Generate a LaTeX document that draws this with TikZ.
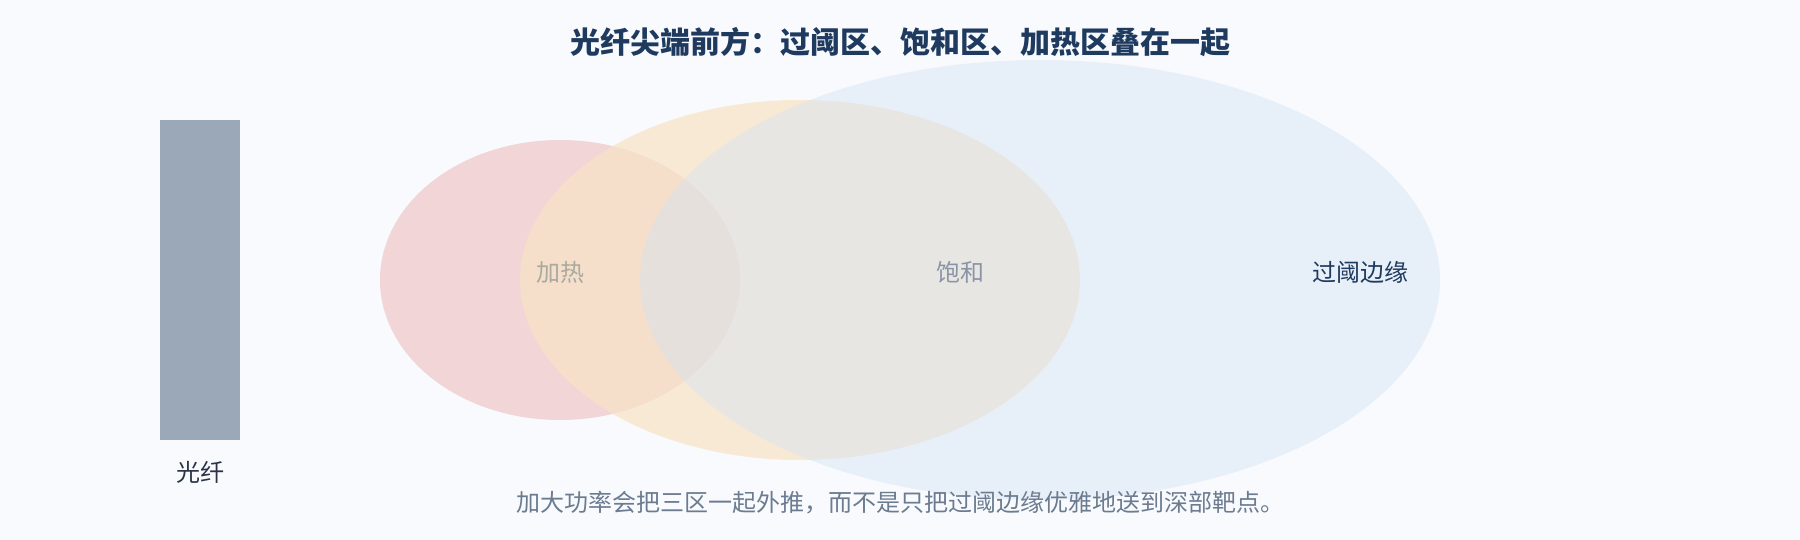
\documentclass[tikz,border=0pt]{standalone}
\usepackage{fontspec}
\setmainfont{Noto Sans CJK SC}
\usetikzlibrary{shapes.geometric}
\definecolor{background}{RGB}{248,250,253}
\definecolor{threshold}{RGB}{212,228,244}
\definecolor{saturation}{RGB}{248,227,197}
\definecolor{heating}{RGB}{236,178,179}
\definecolor{fiber}{RGB}{154,168,184}
\definecolor{navy}{RGB}{31,58,95}
\definecolor{slate}{RGB}{42,52,70}
\definecolor{note}{RGB}{107,123,144}
\definecolor{muted}{RGB}{169,170,160}
\tikzstyle{zone}=[ellipse, inner sep=0pt, draw=none]
\tikzset{zonetext/.style={font=\fontsize{24}{28}\selectfont}}
\tikzstyle{heating}=[fill=heating, fill opacity=.5]

\begin{document}
\begin{tikzpicture}[x=1pt,y=-1pt]
  \fill[background] (0,0) rectangle (1800,540);
  \useasboundingbox (0,0) rectangle (1800,540);
  \draw (900,42) node[text=navy,font=\fontsize{30}{34}\selectfont\bfseries] (title) {光纤尖端前方：过阈区、饱和区、加热区叠在一起};

  %% Fiber tip
  \draw (200,280) node[fill=fiber, minimum width=80pt, minimum height=320pt, inner sep=0pt] (fiber) {};
  \draw (200,472) node[zonetext, text=slate] (fiberlabel) {光纤};

  %% Three zones
  \draw (560,280) node[zone, heating, minimum width=360pt, minimum height=280pt] (heat) {};
  \draw (800,280) node[zone, fill=saturation, fill opacity=.7, minimum width=560pt, minimum height=360pt] (sat) {};
  \draw (1040,280) node[zone, fill=threshold, fill opacity=.45, minimum width=800pt, minimum height=440pt] (edge) {};

  \draw (560,272) node[zonetext, text=muted] (heatlabel) {加热};
  \draw (960,272) node[zonetext, text=note!80!white] (satlabel) {饱和};
  \draw (1360,272) node[zonetext, text=navy] (edgelabel) {过阈边缘};

  %% Note
  \draw (900,503) node[zonetext, text=note] (note) {加大功率会把三区一起外推，而不是只把过阈边缘优雅地送到深部靶点。};
\end{tikzpicture}
\end{document}
